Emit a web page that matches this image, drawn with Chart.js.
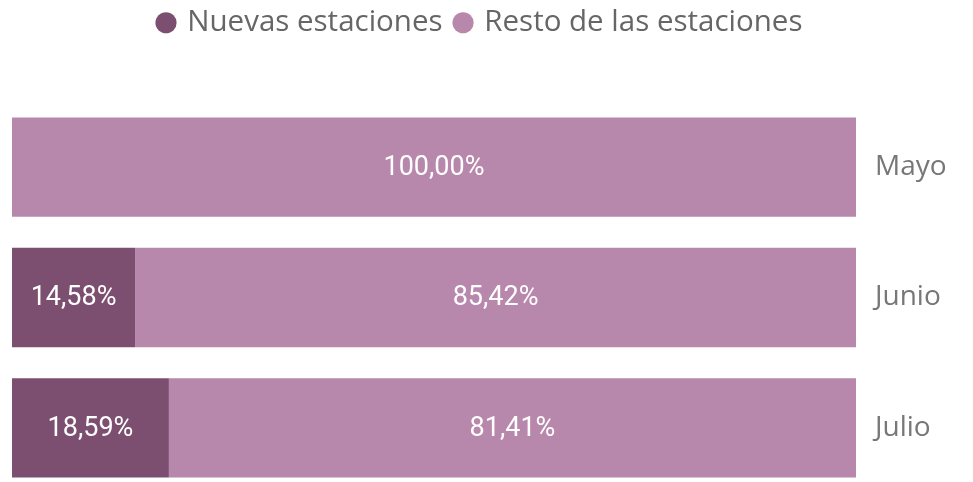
<!DOCTYPE html>
<html>
<head>
<meta charset="utf-8">
<script src="https://cdn.jsdelivr.net/npm/chart.js@4"></script>
<style>
  html, body { margin: 0; padding: 0; background: #fff; overflow: hidden; }
</style>
</head>
<body>
<canvas id="grafico" width="973" height="493"></canvas>
<script>
// ===============================
// DATOS
// ===============================
const meses = ["Mayo", "Junio", "Julio"];
const nuevas = [0, 14.58, 18.59];
const resto = [100, 85.42, 81.41];

const colorNuevas = "#7C4F71";
const colorResto = "#B887AC";

// ===============================
// ETIQUETAS DENTRO DE LAS BARRAS
// ===============================
const etiquetasBarras = {
  id: "etiquetasBarras",
  afterDatasetsDraw(chart) {
    const ctx = chart.ctx;
    ctx.save();
    ctx.font = "27px Roboto";
    ctx.fillStyle = "#ffffff";
    ctx.textAlign = "center";
    ctx.textBaseline = "middle";
    chart.data.datasets.forEach((ds, i) => {
      chart.getDatasetMeta(i).data.forEach((bar, j) => {
        const v = ds.data[j];
        if (!v) return;
        const p = bar.getCenterPoint();
        ctx.fillText(v.toFixed(2).replace(".", ",") + "%", p.x, p.y + 1);
      });
    });
    ctx.restore();
  }
};

// alto fijo para la leyenda
const altoLeyenda = {
  id: "altoLeyenda",
  afterInit(chart) {
    const fitOrig = chart.legend.fit;
    chart.legend.fit = function () {
      fitOrig.call(this);
      this.height = 108;
    };
  }
};

// ===============================
// GRAFICO
// ===============================
new Chart(document.getElementById("grafico"), {
  type: "bar",
  data: {
    labels: meses,
    datasets: [
      { label: "Nuevas estaciones", data: nuevas, backgroundColor: colorNuevas },
      { label: "Resto de las estaciones", data: resto, backgroundColor: colorResto }
    ]
  },
  options: {
    indexAxis: "y",
    responsive: false,
    animation: false,
    layout: { padding: { left: 12, top: -6, right: 23, bottom: 0 } },
    datasets: {
      bar: { categoryPercentage: 1, barPercentage: 0.762, borderWidth: 0 }
    },
    scales: {
      x: { stacked: true, min: 0, max: 100, display: false },
      y: {
        stacked: true,
        position: "right",
        grid: { display: false },
        border: { display: false },
        ticks: {
          crossAlign: "near",
          padding: 11,
          color: "#777777",
          font: { family: "'Open Sans'", size: 28 }
        },
        afterFit(scale) {
          scale.width = 94;
          scale.paddingTop = 0;
          scale.paddingBottom = 0;
        }
      }
    },
    plugins: {
      legend: {
        position: "top",
        align: "center",
        labels: {
          usePointStyle: true,
          pointStyle: "circle",
          boxWidth: 13,
          boxHeight: 15,
          padding: 14,
          color: "#666666",
          font: { family: "'Open Sans'", size: 29.5 }
        }
      },
      tooltip: { enabled: false }
    }
  },
  plugins: [etiquetasBarras, altoLeyenda]
});
</script>
</body>
</html>
